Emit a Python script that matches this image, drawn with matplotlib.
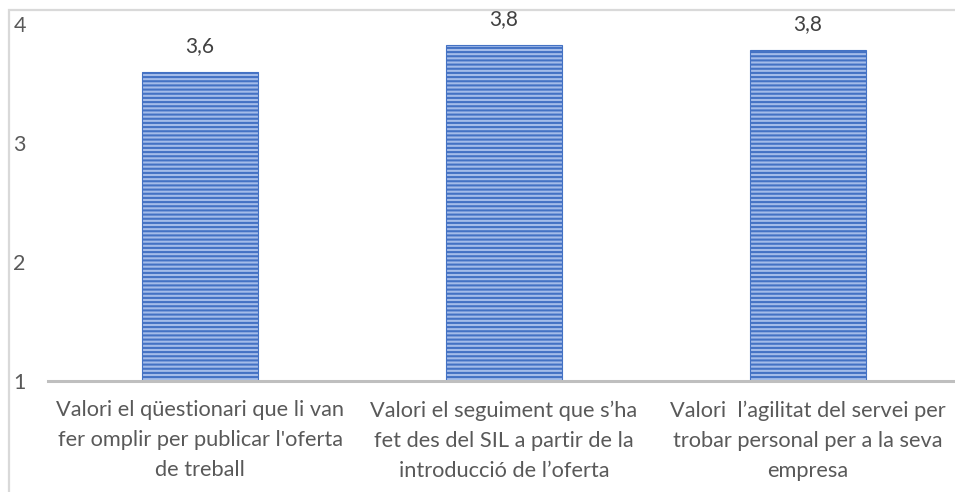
import matplotlib
matplotlib.use("Agg")
import matplotlib.pyplot as plt
from matplotlib.patches import Rectangle

categories = [
    "Valori el qüestionari que li van\nfer omplir per publicar l'oferta\nde treball",
    "Valori el seguiment que s\u2019ha\nfet des del SIL a partir de la\nintroducció de l\u2019oferta",
    "Valori  l\u2019agilitat del servei per\ntrobar personal per a la seva\nempresa",
]
values = [3.6, 3.82, 3.78]
value_labels = ["3,6", "3,8", "3,8"]
yticks = [1, 2, 3, 4]

plt.rcParams['font.family'] = ['Lato', 'DejaVu Sans']
plt.rcParams['hatch.linewidth'] = 1.5

W, H = 955, 492
fig = plt.figure(figsize=(W / 100, H / 100), dpi=100)
ax = fig.add_axes([48 / W, 1 - 381 / H, (W - 48) / W, (381 - 24) / H])

x = list(range(len(categories)))
bars = ax.bar(x, [v - 1 for v in values], bottom=1, width=0.38,
              color='#A4BCE9', edgecolor='#4472C4', linewidth=0.8,
              hatch='----', zorder=2)

for xi, v, lab in zip(x, values, value_labels):
    ax.annotate(lab, (xi, v), xytext=(0, 11.5), textcoords='offset points',
                ha='center', va='bottom', fontsize=15, color='#404040')

ax.set_xlim(-0.5, 2.5 - 5 / 304)
ax.set_ylim(1, 4)
ax.set_yticks(yticks)
ax.set_yticklabels([str(t) for t in yticks])
ax.set_xticks(x)
ax.set_xticklabels(categories, fontsize=15.7, color='#595959', linespacing=1.62)

for s in ['top', 'right', 'left']:
    ax.spines[s].set_visible(False)
ax.spines['bottom'].set_color('#BFBFBF')
ax.spines['bottom'].set_linewidth(2.2)
ax.tick_params(axis='x', length=0, pad=14)
ax.tick_params(axis='y', length=0, pad=16, labelsize=15.5, labelcolor='#595959')
ax.set_facecolor('none')

fig.patches.append(Rectangle((9 / W, -0.1), 1.2, (1 - 10 / H) + 0.1,
                             transform=fig.transFigure, fill=False,
                             edgecolor='#D9D9D9', linewidth=1.6, zorder=0))

fig.savefig("out.png", dpi=100)
